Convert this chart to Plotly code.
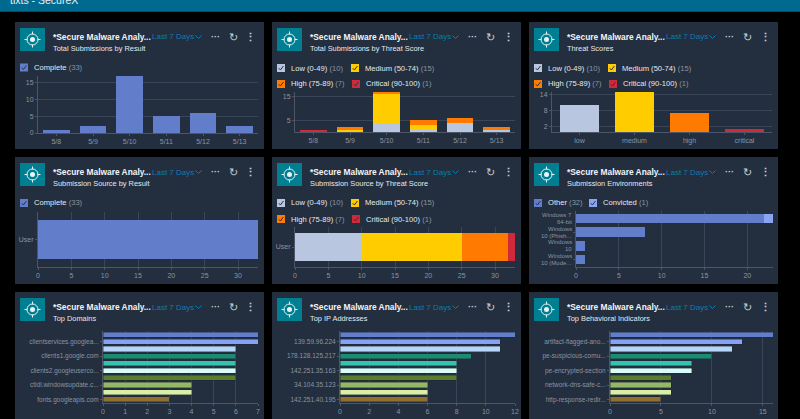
import plotly.graph_objects as go

WIDTH = 800
HEIGHT = 419
FONT = "Liberation Sans"

# chart data
dates = ["5/8", "5/9", "5/10", "5/11", "5/12", "5/13"]
result_complete = [1, 2, 17, 5, 6, 2]

threat_low = [0, 0, 4, 1, 4, 1]
threat_medium = [0, 1, 12, 2, 0, 0]
threat_high = [0, 1, 1, 2, 2, 1]
threat_critical = [1, 0, 0, 0, 0, 0]

score_names = ["low", "medium", "high", "critical"]
score_values = [10, 15, 7, 1]

source_names = ["User"]
source_complete = [33]
source_low = [10]
source_medium = [15]
source_high = [7]
source_critical = [1]

env_names = ["Windows 7<br>64-bit", "Windows<br>10 (Phish...", "Windows<br>10", "Windows<br>10 (Mode..."]
env_other = [22, 8, 1, 1]
env_convicted = [1, 0, 0, 0]

domain_labels = ["clientservices.googlea...", "clients1.google.com", "clients2.googleuserco...",
                 "ctldl.windowsupdate.c...", "fonts.googleapis.com"]
domain_values = [7, 7, 6, 6, 6, 6, 6, 4, 4, 3]

ip_labels = ["139.59.96.224", "178.128.125.217", "142.251.35.163", "34.104.35.123", "142.251.40.195"]
ip_values = [12, 11, 11, 9, 8, 8, 8, 6, 6, 6]

indicator_labels = ["artifact-flagged-ano...", "pe-suspicious-comu...", "pe-encrypted-section",
                    "network-dns-safe-c...", "http-response-redir..."]
indicator_values = [16, 13, 12, 10, 8, 8, 6, 6, 6, 5]

ranks = list(range(10))

# colours
BG = "#000000"
BAND = "#006a8e"
PANEL = "#232e3e"
TEAL = "#007f93"
LINK = "#0b7db0"
TEXT = "#e6e9ee"
MUTED = "#8b95a3"
GRID = "#3a4658"
AXIS = "#4b5768"
BLUE = "#627dc9"
LIGHT_BLUE = "#8aa4f4"
LOW = "#b9c6e0"
MEDIUM = "#ffcc00"
HIGH = "#ff7a00"
CRITICAL = "#d02a3a"
TOP_COLORS = ["#627dc9", "#86a2f6", "#b7d5fb", "#1d8a72", "#33c4ae",
              "#d8fdf8", "#5a7f2c", "#94b866", "#d9efa8", "#91702f"]

COL_X = [15, 272, 529]
ROW_Y = [22, 157, 292]
PANEL_W = 249
PANEL_H = 127

shapes = []
annotations = []


def px(x):
    return x / WIDTH


def py(y):
    return 1 - y / HEIGHT


def rect(x0, y0, x1, y1, color):
    shapes.append(dict(type="rect", xref="paper", yref="paper", x0=px(x0), x1=px(x1), y0=py(y1), y1=py(y0),
                       fillcolor=color, line_width=0, layer="below"))


def seg(x0, y0, x1, y1, color, width=1.0):
    shapes.append(dict(type="line", xref="paper", yref="paper", x0=px(x0), x1=px(x1), y0=py(y0), y1=py(y1),
                       line=dict(color=color, width=width)))


def label(x, y, text, size=8, color=TEXT, anchor="left"):
    annotations.append(dict(xref="paper", yref="paper", x=px(x), y=py(y), text=text, showarrow=False,
                            xanchor=anchor, yanchor="middle", borderpad=0,
                            font=dict(family=FONT, size=size, color=color)))


def check(x, y, color, text, count):
    shapes.append(dict(type="rect", xref="paper", yref="paper", x0=px(x), x1=px(x + 8), y0=py(y + 4), y1=py(y - 4),
                       fillcolor=color, line_width=0))
    seg(x + 1.8, y + 0.2, x + 3.4, y + 2, "#2b3648", 1)
    seg(x + 3.4, y + 2, x + 6.4, y - 2, "#2b3648", 1)
    label(x + 12.5, y, f"{text} <span style='color:{MUTED}'>({count})</span>", 7.6)


def panel_header(x, y, subtitle):
    rect(x, y, x + PANEL_W, y + PANEL_H, PANEL)
    rect(x + 5, y + 6, x + 30, y + 29, TEAL)
    cx, cy = x + 17.5, y + 17.5
    shapes.append(dict(type="circle", xref="paper", yref="paper", x0=px(cx - 5.5), x1=px(cx + 5.5),
                       y0=py(cy + 5.5), y1=py(cy - 5.5), line=dict(color="#e8f4f6", width=1)))
    shapes.append(dict(type="circle", xref="paper", yref="paper", x0=px(cx - 2.5), x1=px(cx + 2.5),
                       y0=py(cy + 2.5), y1=py(cy - 2.5), fillcolor="#e8f4f6", line_width=0))
    seg(cx - 8, cy, cx - 5, cy, "#e8f4f6")
    seg(cx + 5, cy, cx + 8, cy, "#e8f4f6")
    seg(cx, cy - 8, cx, cy - 5, "#e8f4f6")
    seg(cx, cy + 5, cx, cy + 8, "#e8f4f6")
    label(x + 37, y + 15, "<b>*Secure Malware Analy...</b>", 8.4, "#f2f4f7")
    label(x + 37, y + 26.5, subtitle, 7.4, TEXT)
    label(x + 136, y + 15, "Last 7 Days", 8, LINK)
    seg(x + 180.5, y + 13.5, x + 183.5, y + 16.5, LINK)
    seg(x + 183.5, y + 16.5, x + 186.5, y + 13.5, LINK)
    label(x + 200, y + 15, "<b>···</b>", 9, "#c9ced6", "center")
    label(x + 218, y + 15, "↻", 11, "#c9ced6", "center")
    label(x + 236, y + 15, "<b>⋮</b>", 11, "#c9ced6", "center")


def threat_legend(x, y):
    check(x + 5, y + 46, LOW, "Low (0-49)", 10)
    check(x + 79, y + 46, MEDIUM, "Medium (50-74)", 15)
    check(x + 5, y + 62, HIGH, "High (75-89)", 7)
    check(x + 80, y + 62, CRITICAL, "Critical (90-100)", 1)


layout_axes = {}
axis_count = 0


def new_axes(x0, x1, y0, y1, horizontal, x_opts, y_opts, tick_size=7):
    # x0..y1 are pixel edges of the plot area
    global axis_count
    axis_count += 1
    n = axis_count
    base = dict(showline=True, linecolor=AXIS, linewidth=1, ticks="outside", ticklen=2, tickcolor=AXIS,
                zeroline=False, fixedrange=True)
    xa = dict(base, domain=[px(x0), px(x1)], anchor=f"y{n}", showgrid=horizontal, gridcolor=GRID,
              tickfont=dict(family=FONT, size=7, color=MUTED), **x_opts)
    ya = dict(base, domain=[py(y1), py(y0)], anchor=f"x{n}", showgrid=not horizontal, gridcolor=GRID,
              tickfont=dict(family=FONT, size=tick_size, color=MUTED), **y_opts)
    layout_axes[f"xaxis{n}"] = xa
    layout_axes[f"yaxis{n}"] = ya
    return f"x{n}", f"y{n}"


fig = go.Figure()


def add_bar(xa, ya, x, y, color, horizontal=False, outline=0):
    fig.add_trace(go.Bar(x=x, y=y, xaxis=xa, yaxis=ya,
                         marker=dict(color=color, line=dict(color="#1d2633", width=outline)),
                         orientation="h" if horizontal else "v", showlegend=False))


rect(0, 0, WIDTH, 11, BAND)
rect(0, 11, WIDTH, 12, "#004a63")
label(9, 0, "tixts - SecureX", 10.5, "#e8eef2")

subtitles = [
    ["Total Submissions by Result", "Total Submissions by Threat Score", "Threat Scores"],
    ["Submission Source by Result", "Submission Source by Threat Score", "Submission Environments"],
    ["Top Domains", "Top IP Addresses", "Top Behavioral Indicators"],
]
for r, row_y in enumerate(ROW_Y):
    for c, col_x in enumerate(COL_X):
        panel_header(col_x, row_y, subtitles[r][c])

# row 1
check(COL_X[0] + 5, ROW_Y[0] + 45.5, BLUE, "Complete", 33)
threat_legend(COL_X[1], ROW_Y[0])
threat_legend(COL_X[2], ROW_Y[0])

xa, ya = new_axes(38, 258, 76, 133, False, dict(type="category", categoryorder="array", categoryarray=dates),
                  dict(range=[0, 17], tickvals=[0, 5, 10, 15]))
add_bar(xa, ya, dates, result_complete, BLUE)

xa, ya = new_axes(295, 515, 92, 132, False, dict(type="category", categoryorder="array", categoryarray=dates),
                  dict(range=[0, 17], tickvals=[5, 15]))
for values, color in [(threat_low, LOW), (threat_medium, MEDIUM), (threat_high, HIGH), (threat_critical, CRITICAL)]:
    add_bar(xa, ya, dates, values, color)

xa, ya = new_axes(552, 772, 92, 132, False, dict(type="category", categoryorder="array", categoryarray=score_names),
                  dict(range=[0, 15], tickvals=[2, 8, 14]))
add_bar(xa, ya, score_names, score_values, [LOW, MEDIUM, HIGH, CRITICAL])

# row 2
check(COL_X[0] + 5, ROW_Y[1] + 46, BLUE, "Complete", 33)
threat_legend(COL_X[1], ROW_Y[1])
check(COL_X[2] + 5, ROW_Y[1] + 46, BLUE, "Other", 32)
check(COL_X[2] + 60, ROW_Y[1] + 46, LIGHT_BLUE, "Convicted", 1)

xa, ya = new_axes(38, 258, 212, 267, True, dict(range=[0, 33], tickvals=[0, 5, 10, 15, 20, 25, 30]),
                  dict(type="category"))
add_bar(xa, ya, source_complete, source_names, BLUE, True)

xa, ya = new_axes(295, 515, 227, 267, True, dict(range=[0, 33], tickvals=[0, 5, 10, 15, 20, 25, 30]),
                  dict(type="category"))
for values, color in [(source_low, LOW), (source_medium, MEDIUM), (source_high, HIGH), (source_critical, CRITICAL)]:
    add_bar(xa, ya, values, source_names, color, True)

# environment labels sit tighter than plotly's own line spacing, so each line is its own annotation
xa, ya = new_axes(576, 773, 211, 267, True, dict(range=[0, 23], tickvals=[0, 5, 10, 15, 20]),
                  dict(type="category", categoryorder="array", categoryarray=env_names[::-1], showticklabels=False))
add_bar(xa, ya, env_other, env_names, BLUE, True)
add_bar(xa, ya, env_convicted, env_names, LIGHT_BLUE, True)
for name in env_names:
    first, second = name.split("<br>")
    for line, shift in [(first, 3.5), (second, -3.5)]:
        annotations.append(dict(xref="paper", yref=ya, x=px(573), y=name, yshift=shift, text=line, showarrow=False,
                                xanchor="right", yanchor="middle", borderpad=0,
                                font=dict(family=FONT, size=6, color=MUTED)))

# row 3
for x0, x1, values, labels, ticks, top in [
    (103, 258, domain_values, domain_labels, [0, 1, 2, 3, 4, 5, 6, 7], 7),
    (340, 515, ip_values, ip_labels, [0, 2, 4, 6, 8, 10, 12], 12),
    (610, 773, indicator_values, indicator_labels, [0, 5, 10, 15], 16),
]:
    xa, ya = new_axes(x0, x1, 331, 403, True, dict(range=[0, top], tickvals=ticks),
                      dict(range=[9.5, -0.5], tickvals=ranks[1::2], ticktext=labels), tick_size=6.5)
    add_bar(xa, ya, values, ranks, TOP_COLORS, True, outline=0.4)

fig.update_layout(
    width=WIDTH,
    height=HEIGHT,
    margin=dict(l=0, r=0, t=0, b=0, pad=0, autoexpand=False),
    paper_bgcolor=BG,
    plot_bgcolor="rgba(0,0,0,0)",
    barmode="stack",
    bargap=0.28,
    shapes=shapes,
    annotations=annotations,
    showlegend=False,
    **layout_axes,
)

fig.write_html("out.html", config={"displayModeBar": False},
               post_script="document.body.style.margin='0';document.body.style.background='#000';")
